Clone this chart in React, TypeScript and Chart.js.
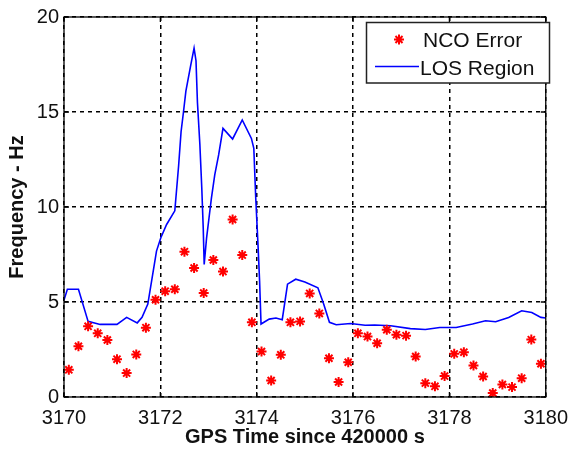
import React, { useEffect, useRef } from "react";
import { Chart, registerables } from "chart.js";

Chart.register(...registerables);

// NCO Error (red stars)
const ncoTime = [
  3170.1, 3170.3, 3170.5, 3170.7, 3170.9, 3171.1, 3171.3, 3171.5, 3171.7, 3171.9,
  3172.1, 3172.3, 3172.5, 3172.7, 3172.9, 3173.1, 3173.3, 3173.5, 3173.7, 3173.9,
  3174.1, 3174.3, 3174.5, 3174.7, 3174.9, 3175.1, 3175.3, 3175.5, 3175.7, 3175.9,
  3176.1, 3176.3, 3176.5, 3176.7, 3176.9, 3177.1, 3177.3, 3177.5, 3177.7, 3177.9,
  3178.1, 3178.3, 3178.5, 3178.7, 3178.9, 3179.1, 3179.3, 3179.5, 3179.7, 3179.9,
];
const ncoError = [
  1.43, 2.67, 3.72, 3.35, 3.0, 1.99, 1.26, 2.24, 3.65, 5.12,
  5.57, 5.67, 7.65, 6.79, 5.47, 7.21, 6.6, 9.34, 7.47, 3.93,
  2.39, 0.87, 2.22, 3.93, 3.98, 5.45, 4.4, 2.04, 0.79, 1.83,
  3.35, 3.18, 2.83, 3.54, 3.28, 3.23, 2.13, 0.73, 0.56, 1.1,
  2.27, 2.36, 1.66, 1.08, 0.21, 0.66, 0.52, 0.99, 3.02, 1.75,
];

// LOS Region (blue line)
const losTime = [
  3170.0, 3170.07, 3170.3, 3170.5, 3170.75, 3171.1, 3171.3, 3171.52, 3171.62, 3171.74,
  3171.83, 3171.92, 3172.01, 3172.13, 3172.3, 3172.38, 3172.43, 3172.48, 3172.53, 3172.63,
  3172.7, 3172.74, 3172.77, 3172.82, 3172.86, 3172.89, 3172.91, 3172.96, 3173.01, 3173.06,
  3173.13, 3173.21, 3173.3, 3173.5, 3173.7, 3173.89, 3173.94, 3173.98, 3174.03, 3174.06,
  3174.09, 3174.26, 3174.4, 3174.53, 3174.64, 3174.81, 3175.0, 3175.27, 3175.39, 3175.51,
  3175.65, 3175.95, 3176.25, 3176.45, 3176.78, 3177.19, 3177.5, 3177.8, 3178.14, 3178.48,
  3178.75, 3178.96, 3179.23, 3179.5, 3179.71, 3179.9, 3180.0,
];
const losFreq = [
  5.1, 5.67, 5.67, 3.98, 3.82, 3.82, 4.19, 3.9, 4.19, 4.89,
  6.28, 7.68, 8.38, 9.08, 9.8, 12.2, 13.96, 15.0, 16.1, 17.45,
  18.36, 17.7, 15.5, 13.3, 11.0, 8.9, 6.98, 8.38, 9.42, 10.47,
  11.7, 12.74, 14.14, 13.58, 14.58, 13.61, 13.09, 10.47, 7.85, 6.1,
  3.84, 4.1, 4.16, 4.07, 5.94, 6.2, 6.05, 5.75, 4.89, 3.93,
  3.8, 3.87, 3.78, 3.79, 3.75, 3.6, 3.55, 3.66, 3.66, 3.84,
  4.01, 3.96, 4.19, 4.54, 4.45, 4.19, 4.16,
];

const xTicks = [3170, 3172, 3174, 3176, 3178, 3180];
const yTicks = [0, 5, 10, 15, 20];
const seriesLabels = ["NCO Error", "LOS Region"];
const xTitle = "GPS Time since 420000 s";
const yTitle = "Frequency - Hz";

const FONT = "'Liberation Sans', Arial, sans-serif";

const framePlugin = {
  id: "frame",
  afterDraw(chart: any) {
    const { ctx, chartArea: a, scales } = chart;
    ctx.save();
    ctx.strokeStyle = "#000";
    ctx.lineWidth = 1.3;
    ctx.setLineDash([]);
    ctx.strokeRect(a.left, a.top, a.right - a.left, a.bottom - a.top);
    const tl = 5;
    ctx.beginPath();
    xTicks.forEach((v) => {
      const x = scales.x.getPixelForValue(v);
      ctx.moveTo(x, a.bottom);
      ctx.lineTo(x, a.bottom - tl);
      ctx.moveTo(x, a.top);
      ctx.lineTo(x, a.top + tl);
    });
    yTicks.forEach((v) => {
      const y = scales.y.getPixelForValue(v);
      ctx.moveTo(a.left, y);
      ctx.lineTo(a.left + tl, y);
      ctx.moveTo(a.right, y);
      ctx.lineTo(a.right - tl, y);
    });
    ctx.stroke();

    // legend box
    const bx = 366.5, by = 22.5, bw = 183, bh = 60.5;
    ctx.fillStyle = "#fff";
    ctx.fillRect(bx, by, bw, bh);
    ctx.lineWidth = 1.5;
    ctx.strokeStyle = "#222";
    ctx.strokeRect(bx, by, bw, bh);

    const ds = chart.data.datasets;
    // marker
    const mx = 399, my = 39.5, r = 5;
    ctx.strokeStyle = "red";
    ctx.lineWidth = 2;
    ctx.beginPath();
    ctx.moveTo(mx - r, my);
    ctx.lineTo(mx + r, my);
    ctx.moveTo(mx, my - r);
    ctx.lineTo(mx, my + r);
    const d = r * 0.7071;
    ctx.moveTo(mx - d, my - d);
    ctx.lineTo(mx + d, my + d);
    ctx.moveTo(mx - d, my + d);
    ctx.lineTo(mx + d, my - d);
    ctx.stroke();
    // line
    ctx.strokeStyle = "#0000ff";
    ctx.lineWidth = 1.5;
    ctx.beginPath();
    ctx.moveTo(375, 66.5);
    ctx.lineTo(419, 66.5);
    ctx.stroke();

    ctx.fillStyle = "#111";
    ctx.font = `21px ${FONT}`;
    ctx.textAlign = "left";
    ctx.textBaseline = "middle";
    ctx.fillText(ds[0].label, 423, 41);
    ctx.fillText(ds[1].label, 420, 69);
    ctx.restore();
  },
};

export default function App() {
  const ref = useRef<HTMLCanvasElement | null>(null);

  useEffect(() => {
    const canvas = ref.current;
    if (!canvas) return;
    const chart = new Chart(canvas, {
      type: "scatter",
      data: {
        datasets: [
          {
            label: seriesLabels[0],
            data: ncoTime.map((t, i) => ({ x: t, y: ncoError[i] })),
            pointStyle: "star",
            pointRadius: 5,
            pointBorderWidth: 2,
            borderColor: "#ff0000",
            backgroundColor: "#ff0000",
            showLine: false,
          },
          {
            label: seriesLabels[1],
            data: losTime.map((t, i) => ({ x: t, y: losFreq[i] })),
            showLine: true,
            borderColor: "#0000ff",
            backgroundColor: "#0000ff",
            borderWidth: 1.6,
            pointRadius: 0,
            tension: 0,
          },
        ],
      },
      options: {
        animation: false,
        responsive: false,
        events: [],
        layout: { padding: { top: 14, right: 23, left: 0, bottom: 0 } },
        plugins: {
          legend: { display: false },
          tooltip: { enabled: false },
        },
        scales: {
          x: {
            type: "linear",
            min: 3170,
            max: 3180,
            afterFit: (s: any) => {
              s.height = 53;
            },
            afterBuildTicks: (s: any) => {
              s.ticks = xTicks.map((v) => ({ value: v }));
            },
            ticks: {
              color: "#111",
              font: { family: FONT, size: 20 },
              padding: 9,
              maxRotation: 0,
              autoSkip: false,
              callback: (v: any) => String(v),
            },
            grid: {
              color: "#000",
              lineWidth: 1.5,
              drawTicks: false,
            },
            border: { display: false, dash: [4, 4] },
            title: {
              display: true,
              text: xTitle,
              color: "#111",
              font: { family: FONT, size: 20, weight: "bold" },
              padding: { top: 0, bottom: 1 },
            },
          },
          y: {
            type: "linear",
            min: 0,
            max: 20,
            afterFit: (s: any) => {
              s.width = 64;
            },
            afterBuildTicks: (s: any) => {
              s.ticks = yTicks.map((v) => ({ value: v }));
            },
            ticks: {
              color: "#111",
              font: { family: FONT, size: 20 },
              padding: 5,
              autoSkip: false,
              callback: (v: any) => String(v),
            },
            grid: {
              color: "#000",
              lineWidth: 1.5,
              drawTicks: false,
            },
            border: { display: false, dash: [4, 4] },
            title: {
              display: true,
              text: yTitle,
              color: "#111",
              font: { family: FONT, size: 20, weight: "bold" },
              padding: { top: 5, bottom: 0 },
            },
          },
        },
      },
      plugins: [framePlugin],
    });
    return () => chart.destroy();
  }, []);

  return (
    <div style={{ position: "fixed", left: 0, top: 0, width: 577, height: 450, background: "#fff" }}>
      <canvas ref={ref} width={577} height={450} style={{ display: "block" }} />
    </div>
  );
}
